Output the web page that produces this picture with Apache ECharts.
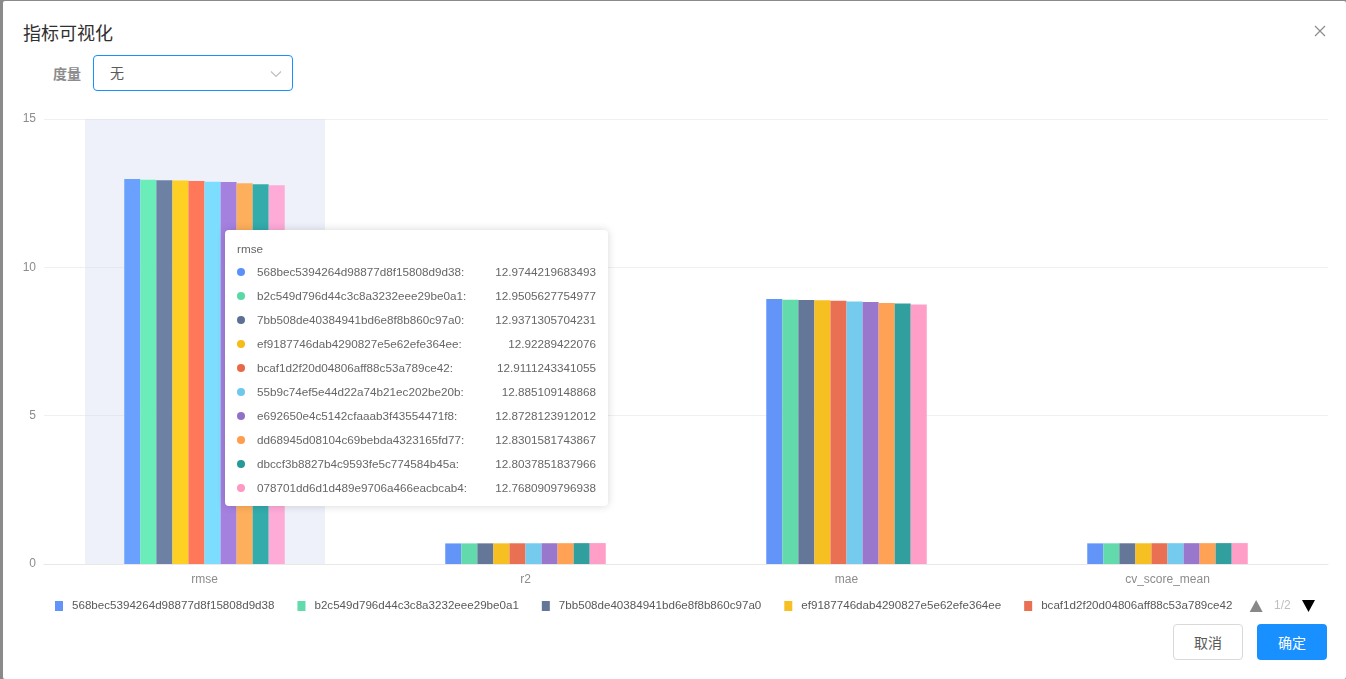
<!DOCTYPE html>
<html>
<head>
<meta charset="utf-8">
<script src="https://cdn.jsdelivr.net/npm/echarts@6/dist/echarts.min.js"></script>
<style>
  html, body { margin:0; padding:0; width:1346px; height:679px; overflow:hidden; background:#8a8a8a; font-family:'Liberation Sans','Noto Sans CJK SC',sans-serif; }
  #dialog { position:absolute; left:3px; top:1px; width:1343px; height:678px; background:#fff; border-radius:2px; }
  .abs { position:absolute; }
  #title { left:20px; top:18px; font-size:18px; line-height:26px; color:#303030; font-family:'Noto Sans CJK SC',sans-serif; font-weight:normal; }
  #close { left:1310px; top:23px; width:14px; height:14px; }
  #lbl { left:50px; top:62px; font-size:14px; line-height:20px; color:#8c8c8c; font-weight:bold; font-family:'Noto Sans CJK SC',sans-serif; }
  #sel { left:90px; top:54px; width:198px; height:34px; border:1px solid #1890ff; border-radius:4px; box-sizing:content-box; }
  #sel span { position:absolute; left:16px; top:6px; font-size:14px; line-height:20px; color:#595959; font-family:'Noto Sans CJK SC',sans-serif; }
  #sel svg { position:absolute; left:176px; top:14px; }
  .btn { top:623px; width:68px; height:34px; border-radius:4px; font-size:14px; line-height:34px; text-align:center; font-family:'Noto Sans CJK SC',sans-serif; }
  #cancel { left:1170px; border:1px solid #d9d9d9; color:#595959; background:#fff; width:68px; height:34px; }
  #ok { left:1254px; background:#1890ff; color:#fff; width:70px; height:36px; line-height:36px; }
  #chart { position:absolute; left:0; top:0; width:1346px; height:679px; }
</style>
</head>
<body>
<div id="dialog">
  <div id="title" class="abs">指标可视化</div>
  <svg id="close" class="abs" viewBox="0 0 14 14"><path d="M2 2L12 12M12 2L2 12" stroke="#8c8c8c" stroke-width="1.2" fill="none"/></svg>
  <div id="lbl" class="abs">度量</div>
  <div id="sel" class="abs"><span>无</span><svg width="12" height="8" viewBox="0 0 12 8"><path d="M1 1.5L6 6.5L11 1.5" stroke="#bfbfbf" stroke-width="1.2" fill="none"/></svg></div>
  <div id="cancel" class="abs btn">取消</div>
  <div id="ok" class="abs btn">确定</div>
</div>
<div id="chart"></div>
<script>
const categories = ['rmse', 'r2', 'mae', 'cv_score_mean'];
const seriesNames = [
  '568bec5394264d98877d8f15808d9d38',
  'b2c549d796d44c3c8a3232eee29be0a1',
  '7bb508de40384941bd6e8f8b860c97a0',
  'ef9187746dab4290827e5e62efe364ee',
  'bcaf1d2f20d04806aff88c53a789ce42',
  '55b9c74ef5e44d22a74b21ec202be20b',
  'e692650e4c5142cfaaab3f43554471f8',
  'dd68945d08104c69bebda4323165fd77',
  'dbccf3b8827b4c9593fe5c774584b45a',
  '078701dd6d1d489e9706a466eacbcab4'
];
const rmseValues = [12.9744219683493, 12.9505627754977, 12.9371305704231, 12.92289422076, 12.9111243341055, 12.885109148868, 12.8728123912012, 12.8301581743867, 12.8037851837966, 12.7680909796938];
const r2Values   = [0.694, 0.695, 0.696, 0.697, 0.698, 0.699, 0.700, 0.702, 0.703, 0.705];
const maeValues  = [8.93, 8.91, 8.90, 8.89, 8.87, 8.85, 8.83, 8.80, 8.78, 8.75];
const cvValues   = [0.696, 0.697, 0.698, 0.699, 0.700, 0.701, 0.702, 0.703, 0.704, 0.705];
const yTicks = { min: 0, max: 15, interval: 5 };
const colors = ['#5B8FF9', '#5AD8A6', '#5D7092', '#F6BD16', '#E8684A', '#6DC8EC', '#9270CA', '#FF9D4D', '#269A99', '#FF99C3'];

const metricValues = [rmseValues, r2Values, maeValues, cvValues];
const font = "'Liberation Sans','Noto Sans CJK SC',sans-serif";

const series = seriesNames.map((name, i) => ({
  name: name,
  type: 'bar',
  z: 100,
  barGap: 0,
  barCategoryGap: '50%',
  itemStyle: { color: colors[i], opacity: 0.95 },
  data: metricValues.map(arr => arr[i])
}));

const chart = echarts.init(document.getElementById('chart'), null, { renderer: 'canvas' });
chart.setOption({
  animation: false,
  color: colors,
  textStyle: { fontFamily: font },
  grid: { left: 44, right: 18, top: 119, bottom: 115, containLabel: false },
  tooltip: {
    trigger: 'axis',
    triggerOn: 'none',
    alwaysShowContent: true,
    transitionDuration: 0,
    confine: false,
    position: function () { return [225, 230]; },
    backgroundColor: '#fff',
    borderWidth: 0,
    padding: [9, 12, 6, 12],
    extraCssText: 'box-shadow: 0 0 8px rgba(0,0,0,0.16); border-radius:4px; width:383px; box-sizing:border-box;',
    axisPointer: {
      type: 'line',
      z: 1,
      lineStyle: { color: 'rgba(210,219,238,0.38)', width: 240, type: 'solid' }
    },
    formatter: function (params) {
      let html = '<div style="font-family:' + font.replace(/"/g, '') + ';font-size:11.7px;color:#666;">';
      html += '<div style="line-height:20px;height:20px;margin-bottom:1px;">' + params[0].axisValue + '</div>';
      params.forEach(p => {
        html += '<div style="display:flex;align-items:center;height:24px;line-height:24px;">' +
          '<span style="display:inline-block;width:8px;height:8px;border-radius:50%;background:' + colors[p.seriesIndex] + ';margin-right:12px;flex:none;"></span>' +
          '<span style="flex:1;white-space:nowrap;">' + p.seriesName + ':</span>' +
          '<span style="white-space:nowrap;margin-left:20px;">' + String(p.value) + '</span>' +
          '</div>';
      });
      html += '</div>';
      return html;
    }
  },
  legend: {
    type: 'scroll',
    orient: 'horizontal',
    left: 40,
    width: 1270,
    top: 595,
    itemGap: 13,
    itemWidth: 26,
    itemHeight: 10,
    icon: 'path://M0,0h0.05v0.05h-0.05zM10,0h8v10h-8z',
    textStyle: { color: '#595959', fontSize: 11.6, fontFamily: font },
    pageIcons: { horizontal: ['path://M0,12L6.5,0L13,12z', 'path://M0,0L13,0L6.5,12z'] },
    pageIconSize: [13, 12],
    pageIconColor: '#000',
    pageIconInactiveColor: '#888',
    pageButtonItemGap: 6,
    pageButtonGap: 0,
    pageTextStyle: { color: '#bfbfbf', fontSize: 12, fontFamily: font },
    data: seriesNames
  },
  xAxis: {
    type: 'category',
    data: categories,
    axisLine: { lineStyle: { color: '#e8e8e8' } },
    axisTick: { alignWithLabel: true, length: 5, lineStyle: { color: '#e0e0e0' } },
    axisLabel: { color: '#8c8c8c', fontSize: 12, margin: 10 },
    axisPointer: { z: 1 }
  },
  yAxis: {
    type: 'value',
    min: yTicks.min,
    max: yTicks.max,
    interval: yTicks.interval,
    axisLine: { show: false },
    axisTick: { show: false },
    axisLabel: { color: '#8c8c8c', fontSize: 12, margin: 8 },
    splitLine: { lineStyle: { color: '#f0f0f0' } }
  },
  series: series
});
setTimeout(function () {
  chart.dispatchAction({ type: 'showTip', seriesIndex: 0, dataIndex: 0 });
}, 50);
</script>
</body>
</html>
